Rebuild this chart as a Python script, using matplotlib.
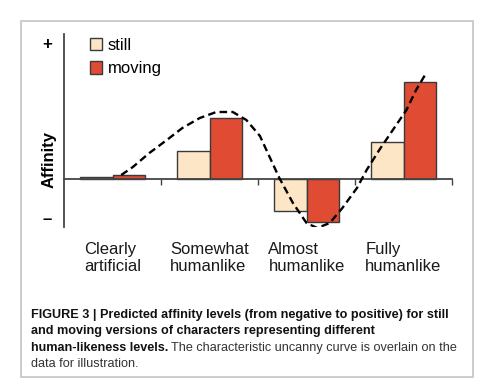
import matplotlib.pyplot as plt
from matplotlib.patches import Rectangle, Patch
import numpy as np

plt.rcParams["font.family"] = ["Liberation Sans", "DejaVu Sans"]

# ------------------------------------------ data ------------------------------------------ #
categories = ["Clearly\nartificial", "Somewhat\nhumanlike", "Almost\nhumanlike", "Fully\nhumanlike"]
still = [0.2, 2.8, -3.2, 3.7]
moving = [0.4, 6.1, -4.3, 9.7]

# uncanny curve (x in category units, y in affinity units)
curve_x = [0.09, 0.21, 0.38, 0.56, 0.72, 0.90, 1.07, 1.24, 1.38, 1.52, 1.62, 1.72,
           1.86, 2.00, 2.11, 2.24, 2.37, 2.52, 2.62, 2.75, 2.89, 3.03, 3.13, 3.24]
curve_y = [0.4, 1.2, 2.6, 3.9, 5.1, 6.1, 6.7, 6.7, 5.9, 4.3, 2.2, 0.1,
           -2.4, -4.4, -4.9, -4.4, -2.9, -0.9, 0.9, 2.9, 4.9, 6.9, 8.9, 10.7]

c_still = "#FDE6C6"
c_moving = "#E04B34"
edge = "#3a3a3a"
axis_col = "#444444"

W, H = 493, 385
fig = plt.figure(figsize=(W / 100, H / 100), dpi=100)
fig.patch.set_facecolor("white")

# outer frame of the figure panel
fig.patches.append(Rectangle((21 / W, 1 - 377 / H), 452 / W, 356 / H, transform=fig.transFigure,
                             fill=False, edgecolor="#C8C8C8", linewidth=1.3))

ax = fig.add_axes([64 / W, 1 - 227 / H, 388 / W, 193 / H])
x = np.arange(len(categories))
bw = 0.34
ax.bar(x - bw / 2, still, width=bw, color=c_still, edgecolor=edge, linewidth=1.0, zorder=2, label="still")
ax.bar(x + bw / 2, moving, width=bw, color=c_moving, edgecolor=edge, linewidth=1.0, zorder=2, label="moving")
ax.plot(curve_x, curve_y, color="black", linewidth=1.7, linestyle=(0, (3.2, 1.8)), zorder=4)

ax.set_xlim(-0.5, 3.5)
ax.set_ylim(-4.8, 14.5)
for s in ["top", "right"]:
    ax.spines[s].set_visible(False)
ax.spines["bottom"].set_position(("data", 0))
ax.spines["left"].set_color(axis_col)
ax.spines["bottom"].set_color(axis_col)
ax.spines["left"].set_linewidth(1.3)
ax.spines["bottom"].set_linewidth(1.3)
ax.spines["bottom"].set_zorder(3)
ax.set_xticks([0.5, 1.5, 2.5, 3.5])
ax.set_xticklabels([])
ax.tick_params(axis="x", direction="out", length=4, width=1.0, color=axis_col)
ax.set_yticks([])

for xi, lab in zip(x, categories):
    ax.text(xi, -6.3, lab, ha="center", va="top", multialignment="left",
            fontsize=12, color="#1a1a1a", linespacing=1.15, clip_on=False)

ax.text(-0.67, 13.4, "+", ha="center", va="center", fontsize=12, fontweight="bold", clip_on=False)
ax.text(-0.67, -4.0, "\u2013", ha="center", va="center", fontsize=12, fontweight="bold", clip_on=False)
ax.text(-0.65, 1.9, "Affinity", rotation=90, ha="center", va="center", fontsize=12,
        fontweight="bold", clip_on=False)

handles = [Patch(facecolor=c_still, edgecolor=edge, linewidth=1.0),
           Patch(facecolor=c_moving, edgecolor=edge, linewidth=1.0)]
fig.legend(handles, ["still", "moving"], loc="upper left", bbox_to_anchor=(78 / W, 1 - 26 / H),
           frameon=False, fontsize=12, handlelength=0.75, handleheight=0.75, handletextpad=0.35,
           labelspacing=0.52, borderpad=0.2)

# caption
cap_fs = 9.1
fig.text(31 / W, 1 - 315 / H, "FIGURE 3 | Predicted affinity levels (from negative to positive) for still",
         fontsize=cap_fs, fontweight="bold", va="center", color="#111111")
fig.text(31 / W, 1 - 331 / H, "and moving versions of characters representing different",
         fontsize=cap_fs, fontweight="bold", va="center", color="#111111")
b = fig.text(31 / W, 1 - 348 / H, "human-likeness levels.",
             fontsize=cap_fs, fontweight="bold", va="center", color="#111111")
fig.canvas.draw()
bb = b.get_window_extent(fig.canvas.get_renderer())
fig.text(bb.x1 / W + 3 / W, 1 - 348 / H, "The characteristic uncanny curve is overlain on the",
         fontsize=cap_fs, va="center", color="#333333")
fig.text(31 / W, 1 - 364 / H, "data for illustration.", fontsize=cap_fs, va="center", color="#333333")

fig.savefig("out.png", dpi=100)
